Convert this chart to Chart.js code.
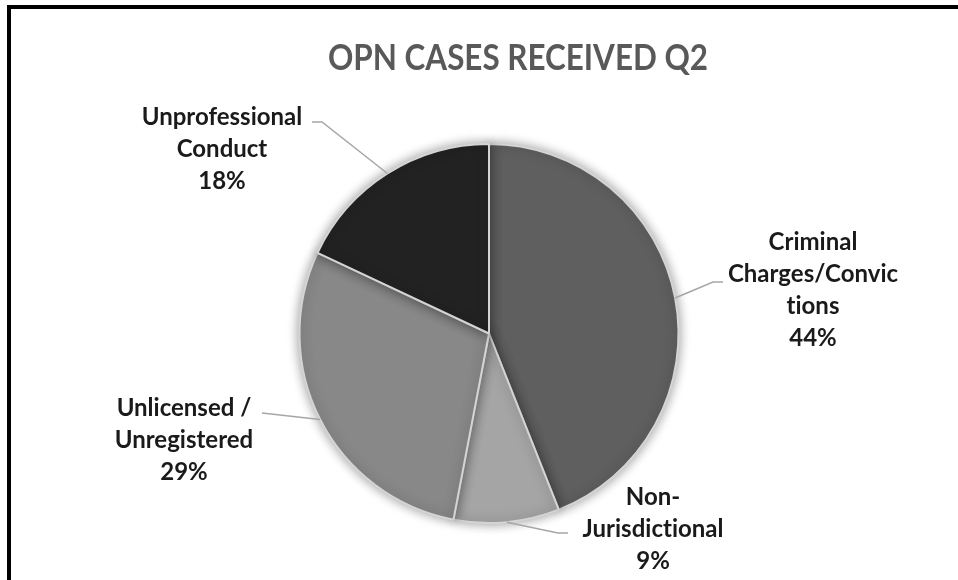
<!DOCTYPE html>
<html>
<head>
<meta charset="utf-8">
<script src="https://cdn.jsdelivr.net/npm/chart.js@4"></script>
<style>
    html, body { margin: 0; padding: 0; background: #ffffff; overflow: hidden; }
    #wrap { position: relative; width: 958px; height: 580px; }
    #frame { position: absolute; left: 7px; top: 5px; width: 1000px; height: 1000px; border: 4px solid #000000; pointer-events: none; }
</style>
</head>
<body>
<div id="wrap">
    <canvas id="myChart" width="958" height="580"></canvas>
    <div id="frame"></div>
</div>
<script>
//Daten
var titel = "OPN CASES RECEIVED Q2";
var kategorien = ["Criminal Charges/Convictions", "Non-Jurisdictional", "Unlicensed / Unregistered", "Unprofessional Conduct"];
var werte = [44, 9, 29, 18];
var farben = ["#5f5f5f", "#a5a5a5", "#888888", "#222222"];
//Beschriftungszeilen (umgebrochen wie im Original)
var beschriftung = [
    ["Criminal", "Charges/Convic", "tions"],
    ["Non-", "Jurisdictional"],
    ["Unlicensed /", "Unregistered"],
    ["Unprofessional", "Conduct"]
];
//Textmitte und Endpunkt der Linie je Beschriftung
var textPos = [
    { x: 813, y: 242, lx: 723, ly: 282, knick: 713 },
    { x: 653, y: 497, lx: 568, ly: 533, knick: 558 },
    { x: 184, y: 408, lx: 262, ly: 413, knick: 262 },
    { x: 222, y: 117, lx: 312, ly: 122, knick: 322 }
];
var titelPos = { x: 518, y: 58, breite: 380 };

var summe = werte.reduce((a, b) => a + b, 0);

//Schatten um den Kuchen
var schatten = {
    id: "schatten",
    beforeDatasetsDraw(chart) {
        var ctx = chart.ctx;
        ctx.save();
        ctx.shadowColor = "rgba(0,0,0,0.4)";
        ctx.shadowBlur = 12;
        ctx.shadowOffsetX = 0;
        ctx.shadowOffsetY = 0;
    },
    afterDatasetsDraw(chart) {
        chart.ctx.restore();
    }
};

//Titel und Beschriftungen mit Linien
var etiketten = {
    id: "etiketten",
    afterDraw(chart) {
        var ctx = chart.ctx;
        //Titel, schmal gezogen wie Calibri
        ctx.save();
        ctx.font = "bold 37px Lato";
        ctx.fillStyle = "#595959";
        ctx.textAlign = "center";
        ctx.textBaseline = "middle";
        var sx = titelPos.breite / ctx.measureText(titel).width;
        ctx.translate(titelPos.x, titelPos.y);
        ctx.scale(sx, 1);
        ctx.fillText(titel, 0, 0);
        ctx.restore();

        var meta = chart.getDatasetMeta(0);
        meta.data.forEach((arc, i) => {
            var p = arc.getProps(["x", "y", "startAngle", "endAngle", "outerRadius"], true);
            var mitte = (p.startAngle + p.endAngle) / 2;
            var ax = p.x + Math.cos(mitte) * p.outerRadius;
            var ay = p.y + Math.sin(mitte) * p.outerRadius;
            var t = textPos[i];
            ctx.save();
            ctx.strokeStyle = "#a6a6a6";
            ctx.lineWidth = 1.5;
            ctx.beginPath();
            ctx.moveTo(ax, ay);
            ctx.lineTo(t.knick, t.ly);
            ctx.lineTo(t.lx, t.ly);
            ctx.stroke();

            ctx.fillStyle = "#1a1a1a";
            ctx.font = "bold 24px Lato";
            ctx.textAlign = "center";
            ctx.textBaseline = "middle";
            var zeilen = beschriftung[i].concat([Math.round(werte[i] / summe * 100) + "%"]);
            zeilen.forEach((z, k) => {
                //keine ti-Ligatur
                ctx.fillText(z.replace(/ti/g, "t\u200Ci"), t.x, t.y + k * 32);
            });
            ctx.restore();
        });
    }
};

var canvas = document.getElementById("myChart");
var myChart = new Chart(canvas, {
    type: "pie",
    data: {
        labels: kategorien,
        datasets: [{
            data: werte,
            backgroundColor: farben,
            borderColor: "#d4d4d4",
            borderWidth: 2
        }]
    },
    options: {
        responsive: false,
        animation: false,
        layout: {
            padding: { top: 143, bottom: 56, left: 298, right: 278 }
        },
        plugins: {
            legend: { display: false },
            tooltip: { enabled: false },
            title: { display: false }
        }
    },
    plugins: [schatten, etiketten]
});
</script>
</body>
</html>
